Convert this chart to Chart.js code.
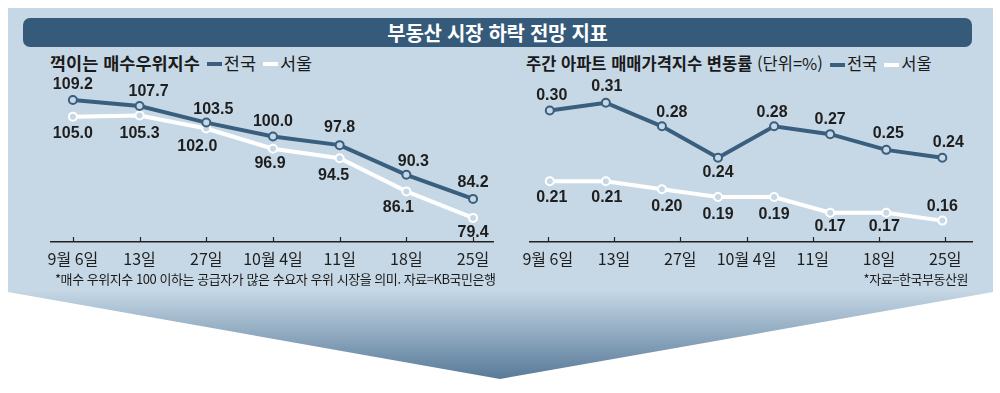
<!DOCTYPE html>
<html lang="ko">
<head>
<meta charset="utf-8">
<script src="https://cdn.jsdelivr.net/npm/chart.js"></script>
<style>
body{margin:0;background:#fff;width:1000px;height:393px;overflow:hidden;position:relative;font-family:"Noto Sans CJK KR",sans-serif;}
#panel{position:absolute;left:8px;top:8px;width:985px;height:371px;
  clip-path:polygon(0 0,100% 0,100% 284px,492px 371px,0 284px);
  background:linear-gradient(to bottom,#c6d8e6 0px,#c6d8e6 282px,#587a98 371px);}
#titlebar{position:absolute;left:23px;top:18px;width:949px;height:29px;background:#355a7a;border-radius:7px;
  color:#fff;font-weight:bold;font-size:20px;text-align:center;line-height:29px;letter-spacing:-0.3px}
.sub{position:absolute;top:51px;font-size:16.5px;color:#1a1a1a;white-space:nowrap;line-height:24px}
.sub b{font-weight:bold}
.dash{display:inline-block;width:15px;height:4px;vertical-align:middle;margin:0 2px 2px 7px}
.note{position:absolute;top:269px;font-size:13px;color:#1a1a1a;letter-spacing:-0.45px;white-space:nowrap}
canvas{position:absolute}
</style>
</head>
<body>
<div id="panel"></div>
<div id="titlebar">부동산 시장 하락 전망 지표</div>
<div class="sub" style="left:50px;font-size:17.5px"><b>꺽이는 매수우위지수</b><span id="leg1"></span></div>
<div class="sub" style="left:526px"><b>주간 아파트 매매가격지수 변동률</b> (단위=%)<span id="leg2"></span></div>
<canvas id="chartLeft" width="470" height="202" style="left:40px;top:70px"></canvas>
<canvas id="chartRight" width="475" height="202" style="left:515px;top:70px"></canvas>
<div class="note" style="left:55px">*매수 우위지수 100 이하는 공급자가 많은 수요자 우위 시장을 의미. 자료=KB국민은행</div>
<div class="note" style="right:32px">*자료=한국부동산원</div>
<script>
// 데이터
const seriesNames = ['전국', '서울'];
const buyDates = ['9월 6일', '13일', '27일', '10월 4일', '11일', '18일', '25일'];
const buyNation = [109.2, 107.7, 103.5, 100.0, 97.8, 90.3, 84.2];
const buySeoul = [105.0, 105.3, 102.0, 96.9, 94.5, 86.1, 79.4];

const weekDates = ['9월 6일', '13일', '27일', '10월 4일', '11일', '18일', '25일'];
const weekNation = [0.30, 0.31, 0.28, 0.24, 0.28, 0.27, 0.25, 0.24];
const weekSeoul = [0.21, 0.21, 0.20, 0.19, 0.19, 0.17, 0.17, 0.16];

// label offsets (px) from each point
const buyNationShift = [[0,-15],[9,-14],[7,-13],[0,-15],[0,-18],[7,-13],[0,-16]];
const buySeoulShift = [[0,17],[0,18],[-9,18],[-3,15],[-6,17],[-8,16],[0,15]];
const weekNationShift = [[2,-15],[1,-16],[10,-14],[0,15],[-2,-14],[0,-15],[2,-16],[6,-15]];
const weekSeoulShift = [[2,16],[1,16],[5,17],[0,18],[0,18],[0,14],[-2,14],[0,-14]];

const navy = '#3a5e7e', panelBg = '#c6d8e6';
const colors = [navy, '#ffffff'];

// legend dashes
['leg1', 'leg2'].forEach(id => {
  let el = document.getElementById(id);
  seriesNames.forEach((n, i) => {
    el.insertAdjacentHTML('beforeend', '<span class="dash" style="background:' + colors[i] + '"></span>' + n);
  });
});

let makeLabels = (shifts, digits) => ({
  id: 'valueLabels',
  afterDatasetsDraw(chart) {
    const ctx = chart.ctx;
    ctx.save();
    ctx.font = 'bold 16px "Liberation Sans", Arial, sans-serif';
    ctx.fillStyle = '#1e1e1e';
    ctx.textAlign = 'center';
    ctx.textBaseline = 'middle';
    chart.data.datasets.forEach((ds, i) => {
      chart.getDatasetMeta(i).data.forEach((pt, j) => {
        let s = shifts[i][j];
        ctx.fillText(ds.data[j].y.toFixed(digits), pt.x + s[0], pt.y + s[1]);
      });
    });
    // small upward tick marks
    const xs = chart.scales.x;
    ctx.strokeStyle = '#222';
    ctx.lineWidth = 1.2;
    xs.ticks.forEach(t => {
      let px = Math.round(xs.getPixelForValue(t.value)) + 0.5;
      ctx.beginPath();
      ctx.moveTo(px, xs.top);
      ctx.lineTo(px, xs.top - 5);
      ctx.stroke();
    });
    ctx.restore();
  }
});

let lineSet = (name, values, color, axisId) => ({
  label: name,
  data: values.map((v, i) => ({x: i, y: v})),
  xAxisID: axisId,
  borderColor: color,
  borderWidth: 4,
  pointRadius: 4,
  pointBorderWidth: 2,
  pointBackgroundColor: panelBg,
  pointBorderColor: color,
  tension: 0
});

let labelAxis = (labels, min, max) => ({
  type: 'linear',
  min: min,
  max: max,
  afterBuildTicks: (scale) => { scale.ticks = labels.map((_, i) => ({value: i})); },
  afterFit: (scale) => { scale.height = 30; },
  grid: {display: false, drawTicks: false, tickLength: 0},
  border: {display: true, color: '#222', width: 1.5},
  ticks: {
    padding: 7,
    color: '#1e1e1e',
    font: {family: '"Noto Sans CJK KR", sans-serif', size: 16},
    maxRotation: 0,
    autoSkip: false,
    callback: (v) => labels[v] ?? ''
  }
});

const baseOptions = {
  responsive: false,
  animation: false,
  plugins: {legend: {display: false}, tooltip: {enabled: false}}
};

// 매수우위지수
let chartLeft = new Chart(document.getElementById('chartLeft'), {
  type: 'line',
  data: {
    datasets: [
      lineSet(seriesNames[0], buyNation, colors[0], 'x'),
      lineSet(seriesNames[1], buySeoul, colors[1], 'x')
    ]
  },
  options: {
    ...baseOptions,
    layout: {autoPadding: false, padding: {left: 10, right: 17, top: 0, bottom: 0}},
    scales: {
      x: labelAxis(buyDates, -0.329, 6.299),
      y: {display: false, min: 73.3, max: 116.8}
    }
  },
  plugins: [makeLabels([buyNationShift, buySeoulShift], 1)]
});

// 주간 변동률
let chartRight = new Chart(document.getElementById('chartRight'), {
  type: 'line',
  data: {
    datasets: [
      lineSet(seriesNames[0], weekNation, colors[0], 'xp'),
      lineSet(seriesNames[1], weekSeoul, colors[1], 'xp')
    ]
  },
  options: {
    ...baseOptions,
    layout: {autoPadding: false, padding: {left: 10, right: 18, top: 0, bottom: 0}},
    scales: {
      x: labelAxis(weekDates, -0.269, 6.403),
      xp: {type: 'linear', display: false, min: -0.353, max: 7.529},
      y: {display: false, min: 0.1328, max: 0.3516}
    }
  },
  plugins: [makeLabels([weekNationShift, weekSeoulShift], 2)]
});
</script>
</body>
</html>
